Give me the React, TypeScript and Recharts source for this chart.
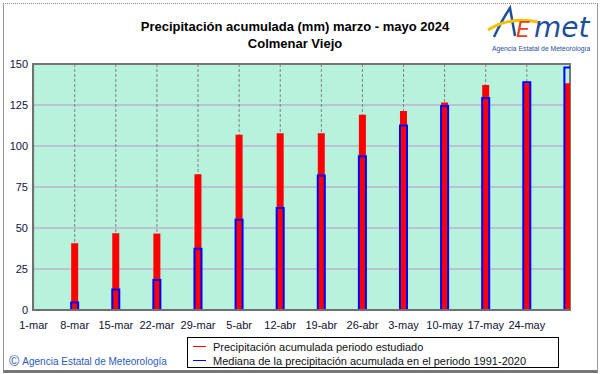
import { BarChart, Bar, XAxis, YAxis, CartesianGrid, ReferenceArea } from 'recharts';

const fechas = ['1-mar', '8-mar', '15-mar', '22-mar', '29-mar', '5-abr', '12-abr', '19-abr', '26-abr', '3-may', '10-may', '17-may', '24-may', '31-may'];
const precipitacion = [0, 40.7, 46.8, 46.6, 82.7, 106.8, 107.8, 107.8, 119, 121.4, 126.6, 137.2, 138.2, 138.2];
const mediana = [0, 4.6, 12.5, 18.3, 37.3, 55, 62.2, 82, 93.8, 112.5, 124.4, 129.3, 138.8, 147.8];
const xTicks = [0, 1, 2, 3, 4, 5, 6, 7, 8, 9, 10, 11, 12];
const yTicks = [0, 25, 50, 75, 100, 125, 150];

const data = fechas.map((f, i) => ({ idx: i, fecha: f, precip: precipitacion[i], mediana: mediana[i] }));

const FONT = '"Liberation Sans", Arial, sans-serif';
const xDomain: [number, number] = [-0.015, 13.05];

export default function App() {
  return (
    <div style={{ position: 'absolute', left: 0, top: 0, width: 601, height: 374, background: '#fff', fontFamily: FONT }}>
      {/* marco exterior */}
      <div
        style={{
          position: 'absolute',
          left: 3,
          top: 3,
          width: 593,
          height: 366,
          borderTop: '1px dotted #888',
          borderLeft: '1px solid #999',
          borderRight: '1px solid #999',
          borderBottom: '3px solid #777',
        }}
      />

      <div
        style={{
          position: 'absolute',
          left: 0,
          top: 18,
          width: 590,
          textAlign: 'center',
          fontWeight: 700,
          fontSize: 13,
          lineHeight: '17px',
          color: '#000',
        }}
      >
        <div>Precipitación acumulada (mm) marzo - mayo 2024</div>
        <div>Colmenar Viejo</div>
      </div>

      {/* logo */}
      <svg style={{ position: 'absolute', left: 480, top: 0 }} width={118} height={58}>
        <path d="M 14 37 Q 22 20 30 8 L 35 36" stroke="#1d4f9c" strokeWidth={2.5} fill="none" />
        <path d="M 8 30 Q 30 16 58 22" stroke="#F5C200" strokeWidth={3} fill="none" />
        <text x={36} y={37} fontSize={22} fontStyle="italic" fill="#E8401A" fontFamily="DejaVu Sans">E</text>
        <text x={54} y={37} fontSize={28} fontStyle="italic" fill="#1d4f9c" fontFamily="DejaVu Sans">met</text>
        <text x={12} y={51} fontSize={6.8} fill="#1d4f9c" fontFamily={FONT}>
          Agencia Estatal de Meteorología
        </text>
      </svg>

      <div style={{ position: 'absolute', left: 0, top: 0 }}>
        <BarChart width={601} height={374} data={data} margin={{ top: 64, right: 31, left: 0, bottom: 34 }}>
          <CartesianGrid xAxisId="bars" vertical={false} stroke="#BDB2D2" strokeWidth={1.5} fill="#B6F2DC" />
          <CartesianGrid xAxisId="bars" horizontal={false} stroke="#808080" strokeDasharray="3 2" />
          <XAxis
            xAxisId="bars"
            dataKey="idx"
            type="number"
            domain={xDomain}
            allowDataOverflow
            ticks={xTicks}
            interval={0}
            tickFormatter={(v: number) => fechas[v]}
            tick={{ fill: '#101030', fontSize: 11, fontFamily: FONT }}
            tickSize={0}
            tickMargin={11}
            axisLine={{ stroke: '#707070', strokeWidth: 2 }}
            height={30}
          />
          <XAxis xAxisId="med" dataKey="idx" type="number" domain={xDomain} allowDataOverflow ticks={xTicks} hide />
          <YAxis
            domain={[0, 150]}
            ticks={yTicks}
            interval={0}
            width={33}
            tick={{ fill: '#101040', fontSize: 11, fontFamily: FONT }}
            tickSize={0}
            tickMargin={5}
            axisLine={{ stroke: '#707070', strokeWidth: 2 }}
          />
          <ReferenceArea xAxisId="bars" y1={0} y2={150} fill="none" stroke="#777" strokeWidth={2} ifOverflow="visible" />
          <Bar xAxisId="bars" dataKey="precip" fill="#FF0000" barSize={7} isAnimationActive={false} />
          <Bar xAxisId="med" dataKey="mediana" fill="none" stroke="#0000FF" strokeWidth={2} barSize={7} isAnimationActive={false} />
        </BarChart>
      </div>

      {/* leyenda */}
      <div
        style={{
          position: 'absolute',
          left: 187,
          top: 337,
          width: 370,
          height: 29,
          border: '1px solid #000',
          background: '#fff',
          fontSize: 11,
          color: '#111',
        }}
      >
        {[
          { color: '#FF0000', label: 'Precipitación acumulada periodo estudiado' },
          { color: '#0000FF', label: 'Mediana de la precipitación acumulada en el periodo 1991-2020' },
        ].map((it) => (
          <div key={it.label} style={{ display: 'flex', alignItems: 'center', height: 11, marginTop: 3 }}>
            <span style={{ display: 'inline-block', width: 13, height: 0, borderTop: `1.5px solid ${it.color}`, marginLeft: 5, marginRight: 7 }} />
            <span style={{ whiteSpace: 'nowrap' }}>{it.label}</span>
          </div>
        ))}
      </div>

      <div style={{ position: 'absolute', left: 9, top: 353, fontSize: 10, color: '#2D5BB9', whiteSpace: 'nowrap' }}>
        <span style={{ fontSize: 14, marginRight: 3, verticalAlign: -1 }}>©</span>
        Agencia Estatal de Meteorología
      </div>
    </div>
  );
}
